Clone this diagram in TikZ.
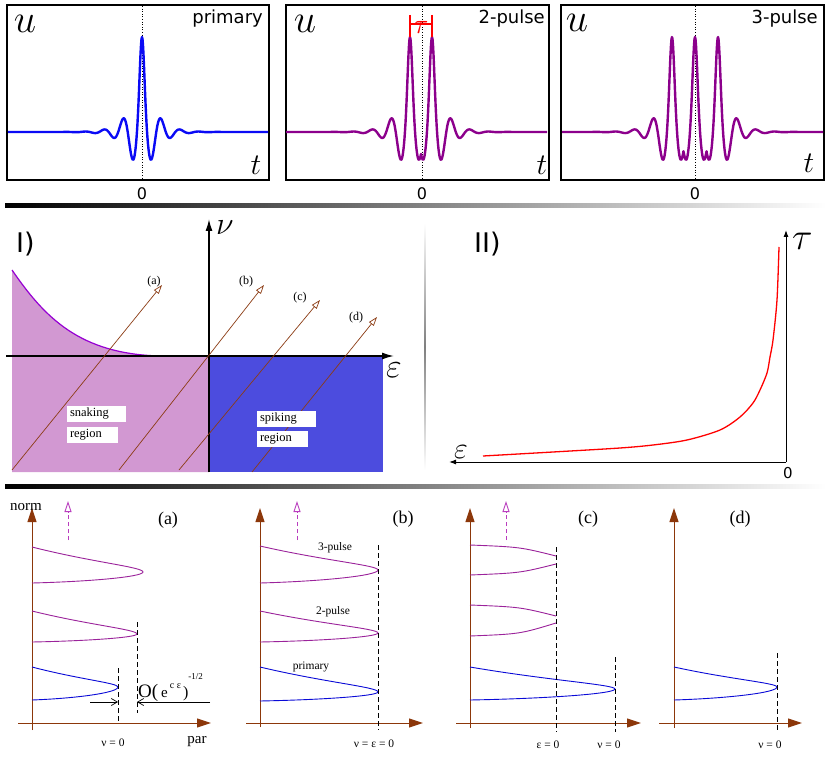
\RequirePackage{fix-cm}
\documentclass[tikz,border=0pt]{standalone}
\usepackage{fontspec}
\setmainfont{Liberation Serif}
\newfontfamily\sansf{DejaVu Sans}
\usetikzlibrary{arrows.meta}

\definecolor{pblue}{RGB}{10,10,245}
\definecolor{ppur}{RGB}{140,0,140}
\definecolor{snk}{RGB}{210,152,210}
\definecolor{spk}{RGB}{76,76,222}
\definecolor{snkc}{RGB}{150,0,210}
\definecolor{brn}{RGB}{140,60,20}
\definecolor{axb}{RGB}{140,55,10}
\definecolor{fpur}{RGB}{155,35,155}
\definecolor{fblu}{RGB}{10,10,215}
\definecolor{dpur}{RGB}{185,60,190}

\tikzstyle{frm}=[line width=2pt]
\tikzstyle{dotl}=[dotted, line width=0.6pt]
\tikzstyle{pulse}=[line width=2.4pt, line join=round]
\tikzstyle{sansl}=[font=\sansf\fontsize{18}{18}\selectfont, anchor=base east]
\tikzstyle{zero}=[font=\sansf\fontsize{16}{16}\selectfont, anchor=base]
\tikzstyle{bigu}=[font=\fontsize{40}{40}\selectfont, anchor=base]
\tikzstyle{bigt}=[font=\fontsize{30}{30}\selectfont, anchor=base]
\tikzstyle{roman}=[font=\sansf\fontsize{27}{27}\selectfont, anchor=base west]
\tikzstyle{ax}=[line width=1.5pt, -{Latex[length=12pt,width=7pt]}]
\tikzstyle{ax2}=[line width=1pt, -{Latex[length=7pt,width=5pt]}]
\tikzstyle{ray}=[draw=brn, line width=0.7pt, -{Triangle[open,fill=white,length=9pt,width=6pt]}]
\tikzstyle{lbl}=[font=\fontsize{12}{12}\selectfont]
\tikzstyle{wbox}=[fill=white, inner xsep=3pt, minimum height=16pt, align=left, font=\fontsize{12.5}{12.5}\selectfont]
\tikzstyle{bax}=[draw=axb, line width=1pt, -{Triangle[length=14pt,width=9pt]}]
\tikzstyle{up}=[draw=dpur, line width=0.9pt, dash pattern=on 4pt off 3pt, -{Triangle[open,fill=white,length=11pt,width=7pt]}]
\tikzstyle{vdash}=[dash pattern=on 5pt off 3pt, line width=0.7pt]
\tikzstyle{fp}=[draw=fpur, line width=0.9pt]
\tikzstyle{fb}=[draw=fblu, line width=0.9pt]
\tikzstyle{tlab}=[font=\fontsize{18}{18}\selectfont]
\tikzstyle{vlab}=[font=\fontsize{11.5}{11.5}\selectfont]

% fold: style, x axis, y top, x tip, y tip, y bottom
\newcommand{\fold}[6]{%
  \draw[#1] (#2,#3) .. controls ({#2+0.55*(#4-#2)},{#3+0.62*(#5-#3)}) and (#4,{#5-0.2*(#5-#3)}) .. (#4,#5)
    .. controls (#4,{#5+0.45*(#6-#5)}) and ({#2+0.5*(#4-#2)},{#6-0.12*(#6-#5)}) .. (#2,#6);}

\begin{document}
\begin{tikzpicture}[x=1pt,y=-1pt,inner sep=0pt,
  declare function={
    ga(\x)=exp(max(-9,-(\x/3)*(\x/3)));
    sh(\x)=2*exp(max(-9,-0.09*abs(\x)))/(1+exp(max(-9,-0.18*abs(\x))));
    tl(\x)=38*sh(\x)*cos(deg(0.33*\x));
    one(\x)=57*ga(\x)+tl(\x);
    two(\x)=57*(ga(\x-11)+ga(\x+11))+tl(min(abs(\x-11),abs(\x+11)));
    three(\x)=57*(ga(\x)+ga(\x-23)+ga(\x+23))+tl(min(abs(\x),abs(\x-23),abs(\x+23)));
  }]
\useasboundingbox (0,0) rectangle (831,757);
\fill[white] (0,0) rectangle (831,757);

% pulse profiles
\draw[frm] (7,5) rectangle (269,180);
\draw[frm] (286,5) rectangle (549,180);
\draw[frm] (561,5) rectangle (824,180);
\draw[dotl] (142,6) -- (142,179);
\draw[dotl] (422,6) -- (422,179);
\draw[dotl] (695,6) -- (695,179);
\draw[pulse, draw=pblue] plot[domain=-134:126, samples=521] ({142+\x},{132-one(\x)});
\draw[pulse, draw=ppur] plot[domain=-135:126, samples=521] ({421+\x},{132-two(\x)});
\draw[pulse, draw=ppur] plot[domain=-133:128, samples=521] ({695+\x},{132-three(\x)});

\node (u1) [bigu] at (25,33) {$u$};
\node (u2) [bigu] at (305,33) {$u$};
\node (u3) [bigu] at (577,32) {$u$};
\node (t1) [bigt] at (256,175) {$t$};
\node (t2) [bigt] at (542,175) {$t$};
\node (t3) [bigt] at (809,173) {$t$};
\node (n1) [sansl] at (263,24) {primary};
\node (n2) [sansl] at (545,24) {2-pulse};
\node (n3) [sansl] at (818,24) {3-pulse};
\node (z1) [zero] at (142,200) {0};
\node (z2) [zero] at (422,200) {0};
\node (z3) [zero] at (695,200) {0};

\draw[red, line width=1.3pt] (410,15) -- (410,37) (432,15) -- (432,37) (410,24) -- (432,24);
\node (tau) [font=\fontsize{28}{28}\selectfont, text=red, anchor=base] at (421,34) {$\tau$};

% separators
\shade[left color=black, right color=white] (5,204) rectangle (826,208);
\shade[left color=black, right color=white] (5,484) rectangle (826,488);
\shade[top color=white, bottom color=white, middle color=gray] (424.3,223) rectangle (425.7,470);

% I) regions
\fill[snk] (12,472) -- (12,270) .. controls (45,318) and (80,354) .. (160,356) -- (209,356) -- (209,472) -- cycle;
\fill[spk] (209,356) rectangle (383,472);
\draw[snkc, line width=1.2pt] (12,270) .. controls (45,318) and (80,354) .. (160,356) -- (209,356);

\coordinate (o1) at (209,356);
\coordinate (nu) at (209,219);
\coordinate (ep) at (394,356);
\draw[ax] (209,472) -- (nu);
\draw[ax] (6,356) -- (ep);
\node (nul) [font=\fontsize{32}{32}\selectfont, anchor=base west] at (216,235) {$\nu$};
\node (epl) [font=\fontsize{34}{34}\selectfont, anchor=base west] at (386,377) {$\varepsilon$};
\node (r1) [roman] at (16,252) {I)};

\coordinate (a0) at (12,470); \coordinate (a1) at (162,285);
\coordinate (b0) at (119,470); \coordinate (b1) at (264,285);
\coordinate (c0) at (179,470); \coordinate (c1) at (320,300);
\coordinate (d0) at (252,472); \coordinate (d1) at (377,317);
\draw[ray] (a0) -- (a1);
\draw[ray] (b0) -- (b1);
\draw[ray] (c0) -- (c1);
\draw[ray] (d0) -- (d1);
\node (la) [lbl] at (154,282) {(a)};
\node (lb) [lbl] at (246,282) {(b)};
\node (lc) [lbl] at (300,298) {(c)};
\node (ld) [lbl] at (356,318) {(d)};

\node (snk1) [wbox, text width=53pt] at (96.5,414) {snaking};
\node (snk2) [wbox, text width=45pt] at (92.5,434.5) {region};
\node (spk1) [wbox, text width=53pt] at (286.5,419) {spiking};
\node (spk2) [wbox, text width=45pt] at (282.5,439) {region};

% II) period
\coordinate (o2) at (786,462);
\coordinate (ta) at (786,230);
\coordinate (eb) at (449,462);
\draw[ax2] (o2) -- (ta);
\draw[ax2] (o2) -- (eb);
\draw[red, line width=1.3pt] plot[smooth, tension=0.5] coordinates {(483,456) (553,452) (620,448) (653,445) (687,440) (720,430) (740,417) (753,403) (760,390) (767,373) (770,357) (773,340) (777,300) (779,247)};
\node (r2) [roman] at (474,252) {II)};
\node (tal) [font=\fontsize{38}{38}\selectfont, anchor=base west] at (792,250) {$\tau$};
\node (ebl) [font=\fontsize{30}{30}\selectfont, anchor=base west] at (454,458) {$\varepsilon$};
\node (z4) [font=\sansf\fontsize{15}{15}\selectfont, anchor=base] at (788,478) {0};

% bifurcation sketches
\draw[bax] (32,730) -- (32,508);
\draw[bax] (18,723) -- (211,723);
\draw[bax] (260,727) -- (260,508);
\draw[bax] (246,723) -- (423,723);
\draw[bax] (470,728) -- (470,508);
\draw[bax] (456,723) -- (641,723);
\draw[bax] (674,728) -- (674,508);
\draw[bax] (659,723) -- (802,723);
\draw[up] (68,540) -- (68,501);
\draw[up] (297,540) -- (297,501);
\draw[up] (506,540) -- (506,501);

\node (norm) [font=\fontsize{15}{15}\selectfont, anchor=base] at (26,510) {norm};
\node (par) [font=\fontsize{15}{15}\selectfont, anchor=base] at (197,743) {par};
\node (pa) [tlab] at (168,520) {(a)};
\node (pb) [tlab] at (403,519) {(b)};
\node (pc) [tlab] at (588,519) {(c)};
\node (pd) [tlab] at (740,519) {(d)};

% (a)
\fold{fp}{32}{547}{143}{572}{583}
\fold{fp}{32}{611}{137}{634}{642}
\fold{fb}{32}{667}{118}{687}{700}
\draw[vdash] (137,622) -- (137,713);
\draw[vdash] (118,668) -- (118,722);
\draw[line width=0.7pt, -{Straight Barb[length=6pt,width=7pt]}] (90,702) -- (118,702);
\draw[line width=0.7pt, -{Straight Barb[length=6pt,width=7pt]}] (210,702) -- (137,702);
\node (ord) [anchor=base west] at (138,697) {{\fontsize{19}{19}\selectfont O(}\hspace{3pt}{\fontsize{15}{15}\selectfont e}\hspace{2pt}\raisebox{9pt}{\fontsize{10}{10}\selectfont c ε}\hspace{2pt}{\fontsize{16}{16}\selectfont )}\raisebox{18pt}{\fontsize{9}{9}\selectfont -1/2}};
\node (va) [vlab] at (113,743) {ν = 0};

% (b)
\fold{fp}{260}{546}{378}{570}{583}
\fold{fp}{260}{611}{378}{633}{642}
\fold{fb}{260}{667}{378}{692}{701}
\draw[vdash] (378,545) -- (378,730);
\node (p3) [vlab] at (335,548) {3-pulse};
\node (p2) [vlab] at (333,612) {2-pulse};
\node (p1) [vlab] at (311,667) {primary};
\node (vb) [vlab] at (374,744) {ν = ε = 0};

% (c)
\draw[fp] (470,545) .. controls (520,547) .. (556,556);
\draw[fp] (470,575) .. controls (520,573) .. (556,564);
\draw[fp] (470,605) .. controls (520,607) .. (556,616);
\draw[fp] (470,636) .. controls (520,634) .. (556,623);
\fold{fb}{470}{667}{615}{689}{700}
\draw[vdash] (556,547) -- (556,732);
\draw[vdash] (615,657) -- (615,732);
\node (vc1) [vlab] at (548,745) {ε = 0};
\node (vc2) [vlab] at (609,745) {ν = 0};

% (d)
\fold{fb}{674}{667}{777}{687}{700}
\draw[vdash] (777,653) -- (777,732);
\node (vd) [vlab] at (770,745) {ν = 0};
\end{tikzpicture}
\end{document}
